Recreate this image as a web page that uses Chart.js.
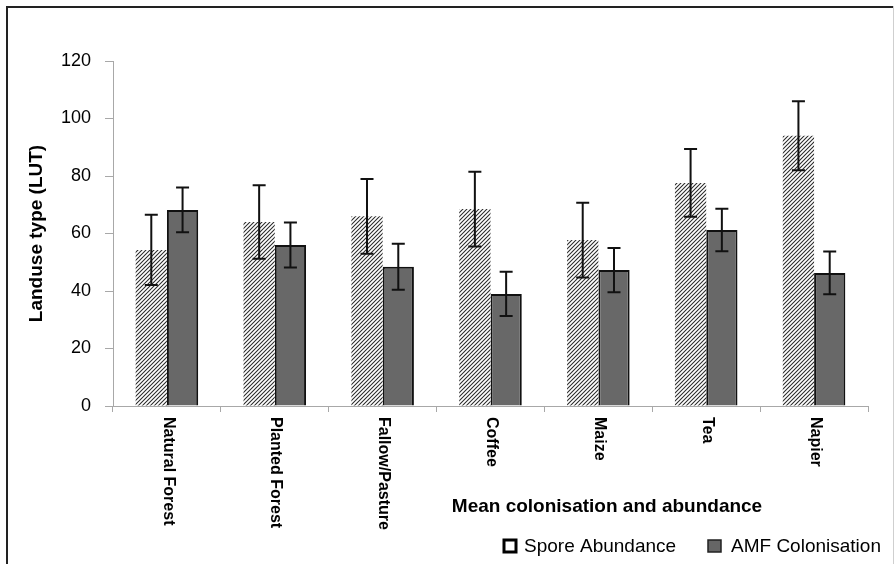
<!DOCTYPE html>
<html>
<head>
<meta charset="utf-8">
<script src="https://cdn.jsdelivr.net/npm/chart.js@4.4.1/dist/chart.umd.min.js"></script>
<style>
  html, body { margin: 0; padding: 0; background: #fff; }
  canvas { display: block; }
</style>
</head>
<body>
<canvas id="lut_chart" width="895" height="564"></canvas>
<script>
const categories = ['Natural Forest', 'Planted Forest', 'Fallow/Pasture', 'Coffee', 'Maize', 'Tea', 'Napier'];
const sporeAbundance = [54.3, 64, 66, 68.5, 57.7, 77.6, 94];
const sporeError = [12.2, 12.8, 13, 13, 13, 11.8, 12];
const amfColonisation = [68.2, 56, 48.4, 39, 47.3, 61.2, 46.3];
const amfError = [7.8, 7.8, 8, 7.7, 7.7, 7.4, 7.4];
const yTickValues = [0, 20, 40, 60, 80, 100, 120];

const FONT = "'Liberation Sans', Arial, sans-serif";

// diagonal hatch for the spore bars
function makeHatch() {
    const c = document.createElement('canvas');
    c.width = 4; c.height = 4;
    const g = c.getContext('2d');
    g.fillStyle = '#fff';
    g.fillRect(0, 0, 4, 4);
    g.strokeStyle = '#2a2a2a';
    g.lineWidth = 1.05;
    g.beginPath();
    g.moveTo(-1, 5); g.lineTo(5, -1);
    g.moveTo(-1, 1); g.lineTo(1, -1);
    g.moveTo(3, 5); g.lineTo(5, 3);
    g.stroke();
    return g.createPattern(c, 'repeat');
}

const errorBars = {
    id: 'errorBars',
    afterDatasetsDraw(chart) {
        const ctx = chart.ctx;
        const y = chart.scales.y;
        const errs = [sporeError, amfError];
        ctx.save();
        ctx.strokeStyle = '#111';
        ctx.lineWidth = 2;
        chart.data.datasets.forEach((ds, i) => {
            chart.getDatasetMeta(i).data.forEach((bar, j) => {
                const v = ds.data[j], e = errs[i][j];
                const top = y.getPixelForValue(v + e);
                const bot = y.getPixelForValue(v - e);
                ctx.beginPath();
                ctx.moveTo(bar.x, top); ctx.lineTo(bar.x, bot);
                ctx.moveTo(bar.x - 6.5, top); ctx.lineTo(bar.x + 6.5, top);
                ctx.moveTo(bar.x - 6.5, bot); ctx.lineTo(bar.x + 6.5, bot);
                ctx.stroke();
            });
        });
        ctx.restore();
    }
};

// rotated category labels, axis title, legend and frame
const decorations = {
    id: 'decorations',
    afterDraw(chart) {
        const ctx = chart.ctx;
        const x = chart.scales.x;
        const bottom = chart.chartArea.bottom;
        ctx.save();
        ctx.fillStyle = '#000';
        ctx.font = 'bold 16px ' + FONT;
        ctx.textAlign = 'left';
        ctx.textBaseline = 'middle';
        categories.forEach((label, i) => {
            ctx.save();
            ctx.translate(x.getPixelForValue(i) + 1, bottom + 11);
            ctx.rotate(Math.PI / 2);
            ctx.fillText(label, 0, 0);
            ctx.restore();
        });

        ctx.font = 'bold 19px ' + FONT;
        ctx.textAlign = 'center';
        ctx.fillText('Mean colonisation and abundance', 607, 507);

        // legend
        ctx.font = '19px ' + FONT;
        ctx.textAlign = 'left';
        ctx.fillStyle = '#fff';
        ctx.fillRect(504, 540, 12, 12);
        ctx.strokeStyle = '#000';
        ctx.lineWidth = 3;
        ctx.strokeRect(504, 540, 12, 12);
        ctx.fillStyle = '#000';
        ctx.fillText('Spore Abundance', 524, 547);
        ctx.fillStyle = '#666';
        ctx.fillRect(708, 540, 13, 12);
        ctx.strokeStyle = '#222';
        ctx.lineWidth = 1.5;
        ctx.strokeRect(708, 540, 13, 12);
        ctx.fillStyle = '#000';
        ctx.fillText('AMF Colonisation', 731, 547);

        // frame
        ctx.strokeStyle = '#cfcfcf';
        ctx.lineWidth = 1;
        ctx.beginPath();
        ctx.moveTo(893.5, 6); ctx.lineTo(893.5, 564);
        ctx.stroke();
        ctx.strokeStyle = '#222';
        ctx.lineWidth = 2;
        ctx.beginPath();
        ctx.moveTo(7, 564); ctx.lineTo(7, 7); ctx.lineTo(893, 7);
        ctx.stroke();
        ctx.restore();
    }
};

new Chart(document.getElementById('lut_chart'), {
    type: 'bar',
    data: {
        labels: categories,
        datasets: [{
            label: 'Spore Abundance',
            data: sporeAbundance,
            backgroundColor: makeHatch(),
            borderWidth: 0
        }, {
            label: 'AMF Colonisation',
            data: amfColonisation,
            backgroundColor: '#686868',
            borderColor: '#111',
            borderWidth: 2
        }]
    },
    options: {
        responsive: false,
        animation: false,
        devicePixelRatio: 1,
        layout: { padding: { top: 61, left: 0, right: 27, bottom: 0 } },
        datasets: { bar: { categoryPercentage: 0.58, barPercentage: 1.0 } },
        plugins: { legend: { display: false }, tooltip: { enabled: false } },
        scales: {
            x: {
                ticks: { display: false },
                grid: { offset: true, drawOnChartArea: false, tickLength: 6, color: '#a8a8a8' },
                border: { color: '#a8a8a8' },
                afterFit: s => { s.height = 158; }
            },
            y: {
                min: 0,
                max: 120,
                afterBuildTicks: s => { s.ticks = yTickValues.map(v => ({ value: v })); },
                ticks: { color: '#000', font: { family: FONT, size: 18 }, padding: 14 },
                grid: { drawOnChartArea: false, tickLength: 8, color: '#a8a8a8' },
                border: { color: '#a8a8a8' },
                title: {
                    display: true,
                    text: 'Landuse type (LUT)',
                    color: '#000',
                    font: { family: FONT, size: 19, weight: 'bold' },
                    padding: { top: 25, bottom: 0 }
                },
                afterFit: s => { s.width = 113; }
            }
        }
    },
    plugins: [errorBars, decorations]
});
</script>
</body>
</html>
